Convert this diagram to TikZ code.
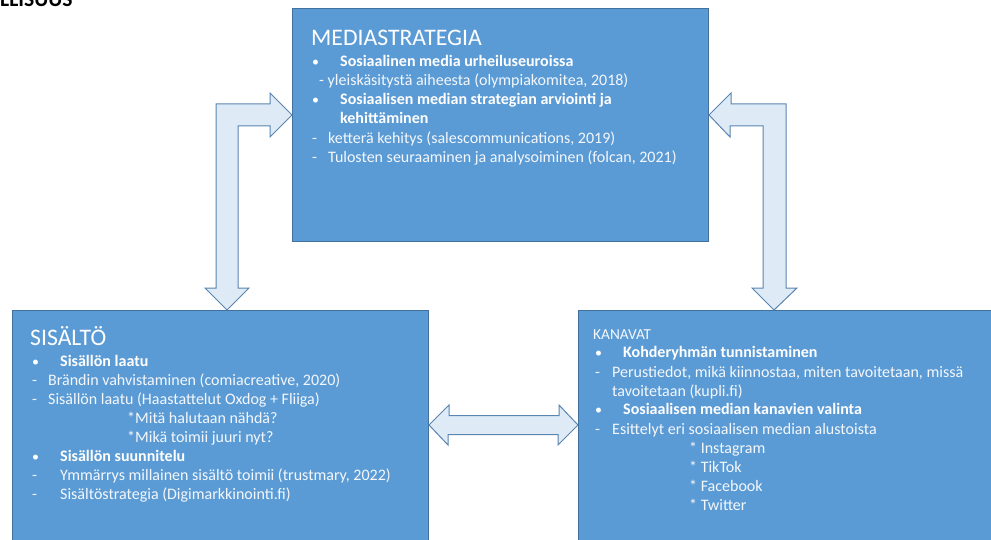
\documentclass[tikz,border=0pt]{standalone}
\usepackage{fontspec}
\setmainfont{Carlito}
\definecolor{boxfill}{HTML}{5B9BD5}
\definecolor{boxline}{HTML}{41719C}
\definecolor{arrfill}{HTML}{DEEBF7}
\definecolor{arrline}{HTML}{5A85B0}
\definecolor{txtc}{HTML}{F4F7FB}
\tikzset{
  box/.style={draw=boxline, line width=1pt, fill=boxfill, anchor=north west, inner sep=0},
  blockarrow/.style={draw=arrline, line width=1pt, fill=arrfill, line join=miter},
  txt/.style={anchor=base west, inner sep=0, text=txtc, font=\fontsize{16}{19}\selectfont},
  btxt/.style={txt, text=white, font=\fontsize{16}{19}\selectfont\bfseries},
  bul/.style={txt, text=white, font=\fontsize{14}{17}\selectfont},
  ttl/.style={anchor=base west, inner sep=0, text=white, font=\fontsize{23.7}{28}\selectfont},
}
\begin{document}
\begin{tikzpicture}[x=1pt,y=1pt]
\useasboundingbox (0,0) rectangle (991,-540);
\clip (0,0) rectangle (991,-540);
\node[anchor=base west, inner sep=0, font=\fontsize{21.5}{24}\selectfont\bfseries] (hdr) at (0,-7) {LLISUUS};
% boxes
\node[box, minimum width=416pt, minimum height=233pt] (ms) at (292,-8) {};
\node[box, minimum width=416pt, minimum height=250pt] (sis) at (12,-310) {};
\node[box, minimum width=430pt, minimum height=250pt] (kan) at (578,-310) {};
% arrow anchors
\coordinate (la1) at ([yshift=-107pt]ms.north west);
\coordinate (la2) at ([xshift=215pt]sis.north west);
\coordinate (rb1) at ([yshift=-107pt]ms.north east);
\coordinate (rb2) at ([xshift=196pt]kan.north west);
\coordinate (da1) at ([yshift=-115pt]sis.north east);
\coordinate (da2) at ([yshift=-115pt]kan.north west);
% left bent arrow
\draw[blockarrow] (la2) -- ++(22,22) -- ++(-11,0) -- ++(0,162) -- ++(32,0) -- ++(0,-11)
  -- (la1) -- ++(-22,22) -- ++(0,-11) -- ++(-54,0) -- ++(0,-184) -- ++(-11,0) -- cycle;
% right bent arrow
\draw[blockarrow] (rb1) -- ++(22,22) -- ++(0,-11) -- ++(55,0) -- ++(0,-184) -- ++(11,0)
  -- (rb2) -- ++(-22,22) -- ++(11,0) -- ++(0,162) -- ++(-33,0) -- ++(0,-11) -- cycle;
% double arrow
\draw[blockarrow] (da1) -- ++(20,20) -- ++(0,-10.5) -- ++(110,0) -- ++(0,10.5)
  -- (da2) -- ++(-20,-20) -- ++(0,10.5) -- ++(-110,0) -- ++(0,-10.5) -- cycle;
% MEDIASTRATEGIA
\node[ttl] (msT) at (311,-46) {MEDIASTRATEGIA};
\node[bul] (msB1) at (312,-67) {•};
\node[btxt] (msL1) at (340,-67) {Sosiaalinen media urheiluseuroissa};
\node[txt] (msL2) at (319,-86) {- yleiskäsitystä aiheesta (olympiakomitea, 2018)};
\node[bul] (msB2) at (312,-105) {•};
\node[btxt] (msL3) at (340,-105) {Sosiaalisen median strategian arviointi ja};
\node[btxt] (msL4) at (340,-124) {kehittäminen};
\node[txt] (msD1) at (312,-144) {-};
\node[txt] (msL5) at (328,-144) {ketterä kehitys (salescommunications, 2019)};
\node[txt] (msD2) at (312,-163) {-};
\node[txt] (msL6) at (328,-163) {Tulosten seuraaminen ja analysoiminen (folcan, 2021)};
% SISÄLTÖ
\node[ttl] (sT) at (30,-345) {SISÄLTÖ};
\node[bul] (sB1) at (32,-366) {•};
\node[btxt] (sL1) at (60,-366) {Sisällön laatu};
\node[txt] (sD1) at (32,-385) {-};
\node[txt] (sL2) at (48,-385) {Brändin vahvistaminen (comiacreative, 2020)};
\node[txt] (sD2) at (32,-404) {-};
\node[txt] (sL3) at (48,-404) {Sisällön laatu (Haastattelut Oxdog + Fliiga)};
\node[txt] (sL4) at (127,-423) {*Mitä halutaan nähdä?};
\node[txt] (sL5) at (127,-442) {*Mikä toimii juuri nyt?};
\node[bul] (sB2) at (32,-461) {•};
\node[btxt] (sL6) at (60,-461) {Sisällön suunnitelu};
\node[txt] (sD3) at (32,-480) {-};
\node[txt] (sL7) at (60,-480) {Ymmärrys millainen sisältö toimii (trustmary, 2022)};
\node[txt] (sD4) at (32,-499) {-};
\node[txt] (sL8) at (60,-499) {Sisältöstrategia (Digimarkkinointi.fi)};
% KANAVAT
\node[txt, font=\fontsize{15.3}{18}\selectfont] (kT) at (593,-339) {KANAVAT};
\node[bul] (kB1) at (595,-357) {•};
\node[btxt] (kL1) at (623,-357) {Kohderyhmän tunnistaminen};
\node[txt] (kD1) at (595,-377) {-};
\node[txt] (kL2) at (612,-377) {Perustiedot, mikä kiinnostaa, miten tavoitetaan, missä};
\node[txt] (kL3) at (612,-396) {tavoitetaan (kupli.fi)};
\node[bul] (kB2) at (595,-414) {•};
\node[btxt] (kL4) at (623,-414) {Sosiaalisen median kanavien valinta};
\node[txt] (kD2) at (595,-434) {-};
\node[txt] (kL5) at (612,-434) {Esittelyt eri sosiaalisen median alustoista};
\node[txt] (kL6) at (689,-453) {* Instagram};
\node[txt] (kL7) at (689,-472) {* TikTok};
\node[txt] (kL8) at (689,-491) {* Facebook};
\node[txt] (kL9) at (689,-510) {* Twitter};
\end{tikzpicture}
\end{document}
